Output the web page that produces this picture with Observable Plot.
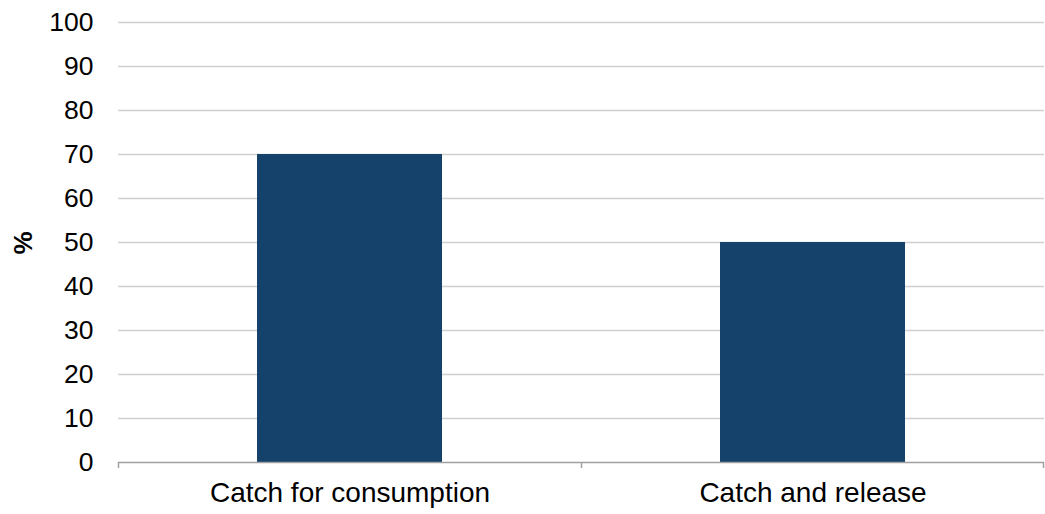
<!DOCTYPE html>
<html>
<head>
<meta charset="utf-8">
<script src="https://cdn.jsdelivr.net/npm/d3@7"></script>
<script src="https://cdn.jsdelivr.net/npm/@observablehq/plot@0.6"></script>
<style>
  html, body { margin: 0; padding: 0; background: #fff; }
  svg { display: block; }
</style>
</head>
<body>
<div id="chart"></div>
<script>
const categories = ["Catch for consumption", "Catch and release"];
const values = [70, 50];
const yTicks = [0, 10, 20, 30, 40, 50, 60, 70, 80, 90, 100];

const data = categories.map((c, i) => ({category: c, value: values[i]}));

const W = 1045, H = 514;
const mL = 118, mR = 1, mT = 22, mB = 52;
const step = (W - mL - mR) / categories.length;
const font = "Liberation Sans, Arial, sans-serif";

const chart = Plot.plot({
  width: W,
  height: H,
  marginLeft: mL,
  marginRight: mR,
  marginTop: mT,
  marginBottom: mB,
  style: {fontFamily: font, background: "#fff", color: "#000"},
  x: {domain: categories, paddingInner: 0.6, paddingOuter: 0.3, align: 0.5},
  y: {domain: [0, 100]},
  marks: [
    Plot.ruleY(yTicks.filter(d => d > 0), {y: d => d, stroke: "#d0d0d0", strokeWidth: 1.5}),
    Plot.barY(data, {x: "category", y: "value", fill: "#15426b"}),
    Plot.ruleY([0], {stroke: "#a0a0a0", strokeWidth: 1.5}),
    // category boundary tick marks
    Plot.ruleX(categories, {x: d => d, y1: 0, y2: 0, insetBottom: -6, dx: -step / 2, stroke: "#a0a0a0", strokeWidth: 1.5}),
    Plot.ruleX(categories.slice(-1), {x: d => d, y1: 0, y2: 0, insetBottom: -6, dx: step / 2 - 1, stroke: "#a0a0a0", strokeWidth: 1.5}),
    Plot.axisY({ticks: yTicks, tickSize: 0, tickPadding: 25, fontSize: 26.5, label: null, fill: "#000"}),
    Plot.axisX({tickSize: 0, tickPadding: 20, fontSize: 28, label: null, fill: "#000"}),
    Plot.text(["%"], {frameAnchor: "left", dx: -95, dy: 12, rotate: -90, fontSize: 26, fontWeight: "bold", fill: "#000"})
  ]
});

document.getElementById("chart").appendChild(chart);
</script>
</body>
</html>
